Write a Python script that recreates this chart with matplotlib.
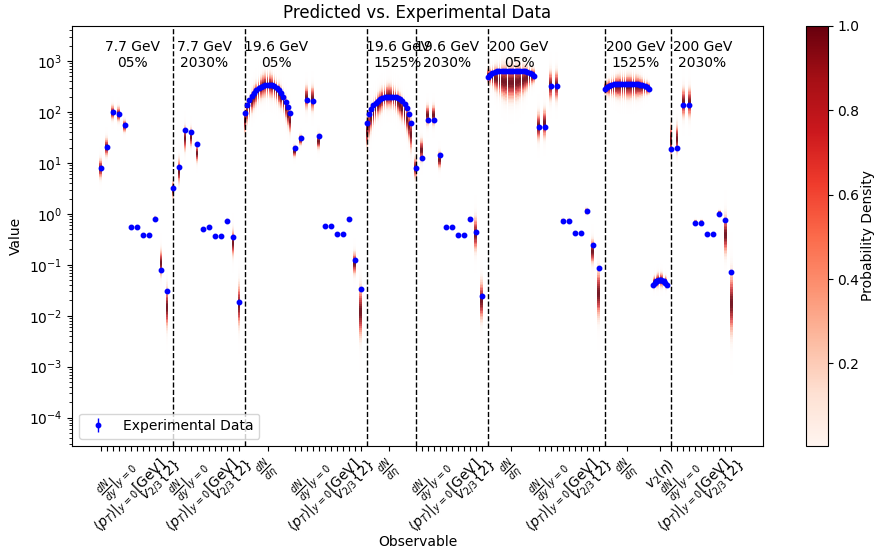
#!/usr/bin/env python3
"""
Predicted (posterior density bands) vs. experimental data, log scale, per observable.
"""

import numpy as np
import matplotlib
matplotlib.use("Agg")
import matplotlib.pyplot as plt
from matplotlib.colors import ListedColormap, Normalize
from matplotlib.cm import ScalarMappable

# ---- group headers ----
group_titles = ["7.7 GeV\n05%", "7.7 GeV\n2030%", "19.6 GeV\n05%", "19.6 GeV\n1525%",
                "19.6 GeV\n2030%", "200 GeV\n05%", "200 GeV\n1525%", "200 GeV\n2030%"]

# ---- discrete observables: experimental value, band low / high edge ----
# order: dN/dy (K-, K+, pi-, pi+, p), <pT> (same), v2{2}, v3{2}
g77c_exp = [7.9, 21, 101, 93, 55, 0.54, 0.556, 0.376, 0.376, 0.80, 0.080, 0.031]
g77c_lo = [4.0, 11, 60, 55, 35, 0.50, 0.51, 0.35, 0.35, 0.70, 0.045, 0.0035]
g77c_hi = [15, 38, 160, 150, 80, 0.59, 0.60, 0.41, 0.41, 0.95, 0.27, 0.06]

g77p_exp = [3.2, 8.5, 44, 41, 23, 0.50, 0.54, 0.36, 0.36, 0.73, 0.35, 0.019]
g77p_lo = [1.7, 3.0, 13, 17, 8.4, 0.46, 0.50, 0.33, 0.33, 0.62, 0.11, 0.0037]
g77p_hi = [5.3, 16, 70, 60, 28, 0.55, 0.59, 0.40, 0.40, 0.85, 0.67, 0.07]

g196c_exp = [19.4, 30.5, 172, 166, 34, 0.565, 0.58, 0.40, 0.40, 0.80, 0.125, 0.033]
g196c_lo = [11.5, 20, 88, 80, 16, 0.52, 0.54, 0.37, 0.37, 0.70, 0.05, 0.002]
g196c_hi = [25, 40, 420, 420, 44, 0.61, 0.63, 0.44, 0.44, 0.90, 0.23, 0.07]

g196p_exp = [7.9, 12.4, 70, 70, 14.4, 0.54, 0.556, 0.39, 0.39, 0.79, 0.45, 0.024]
g196p_lo = [4.0, 8.4, 44, 44, 6.6, 0.50, 0.51, 0.36, 0.36, 0.70, 0.125, 0.005]
g196p_hi = [16, 38, 170, 170, 20, 0.59, 0.60, 0.42, 0.42, 0.90, 1.3, 0.08]

# 200 GeV: dN/dy (K-, K+, pi-, pi+), <pT> (K-, K+, pi-, pi+, p), v2{2}, v3{2}
g200c_exp = [50, 50, 323, 323, 0.73, 0.73, 0.42, 0.42, 1.15, 0.24, 0.086]
g200c_lo = [20, 22, 120, 120, 0.62, 0.62, 0.38, 0.38, 0.9, 0.08, 0.005]
g200c_hi = [137, 160, 910, 910, 0.85, 0.85, 0.47, 0.47, 1.4, 0.42, 0.15]

g200p_exp = [19, 20, 137, 137, 0.676, 0.676, 0.41, 0.41, 1.0, 0.76, 0.073]
g200p_lo = [10, 11, 56, 56, 0.6, 0.6, 0.37, 0.37, 0.85, 0.1, 0.002]
g200p_hi = [80, 80, 420, 420, 0.8, 0.8, 0.45, 0.45, 1.25, 1.5, 0.15]

# ---- pseudorapidity curves ----
dndeta_196c = [94, 135, 170, 205, 240, 270, 295, 315, 330, 338, 340, 338, 332, 320, 300, 275, 240, 200, 160, 125, 94]
dndeta_196c_lo = [30, 45, 60, 75, 90, 105, 120, 135, 145, 150, 150, 150, 145, 135, 120, 105, 90, 75, 55, 40, 30]
dndeta_196c_hi = [150, 210, 270, 340, 420, 490, 560, 640, 720, 770, 780, 770, 720, 640, 560, 490, 420, 340, 260, 190, 150]

dndeta_196m = [60, 90, 115, 135, 150, 165, 178, 188, 195, 198, 200, 200, 198, 195, 188, 178, 165, 145, 120, 90, 62]
dndeta_196m_lo = [15, 22, 30, 40, 50, 60, 70, 80, 88, 92, 95, 92, 88, 80, 70, 60, 50, 40, 30, 20, 12]
dndeta_196m_hi = [110, 150, 190, 230, 270, 310, 350, 390, 420, 450, 460, 450, 420, 390, 350, 310, 270, 230, 180, 140, 110]

dndeta_200c = [490, 540, 580, 610, 630, 640, 650, 650, 645, 640, 635, 635, 640, 645, 650, 645, 635, 615, 585, 545, 500]
dndeta_200c_lo = [320, 280, 240, 205, 175, 150, 135, 122, 115, 110, 110, 110, 115, 122, 135, 150, 175, 205, 240, 280, 320]
dndeta_200c_hi = [830, 900, 980, 1050, 1120, 1180, 1230, 1270, 1300, 1300, 1300, 1300, 1300, 1270, 1230, 1180, 1120, 1050, 980, 900, 830]

dndeta_200m = [280, 305, 325, 340, 348, 352, 355, 356, 355, 354, 353, 353, 354, 355, 354, 350, 345, 335, 320, 305, 285]
dndeta_200m_lo = [200, 185, 172, 162, 155, 149, 144, 140, 138, 137, 137, 137, 138, 140, 144, 149, 155, 162, 172, 185, 200]
dndeta_200m_hi = [430, 480, 530, 580, 620, 660, 690, 710, 720, 720, 720, 720, 720, 710, 690, 660, 620, 580, 530, 480, 430]

v2eta_200m = [0.040, 0.044, 0.047, 0.049, 0.050, 0.051, 0.050, 0.049, 0.047, 0.044, 0.040]
v2eta_200m_lo = [0.030, 0.030, 0.031, 0.031, 0.031, 0.031, 0.031, 0.031, 0.031, 0.030, 0.030]
v2eta_200m_hi = [0.065, 0.070, 0.075, 0.080, 0.082, 0.083, 0.082, 0.080, 0.075, 0.070, 0.065]

REL_ERR = 0.05  # experimental error bars are tiny

LBL_DNDY = r"$\frac{dN}{dy}|_{y=0}$"
LBL_PT = r"$\langle p_T\rangle|_{y=0}$[GeV]"
LBL_VN = r"$v_{2/3}\{2\}$"
LBL_DNDETA = r"$\frac{dN}{d\eta}$"
LBL_V2ETA = r"$v_2(\eta)$"

# (kind, data...) blocks per group; label index -> text for discrete blocks
groups = [
    [("disc", g77c_exp, g77c_lo, g77c_hi, {3: LBL_DNDY, 5: LBL_PT, 10: LBL_VN})],
    [("disc", g77p_exp, g77p_lo, g77p_hi, {3: LBL_DNDY, 5: LBL_PT, 10: LBL_VN})],
    [("curve", dndeta_196c, dndeta_196c_lo, dndeta_196c_hi, 7.55, LBL_DNDETA),
     ("disc", g196c_exp, g196c_lo, g196c_hi, {3: LBL_DNDY, 5: LBL_PT, 10: LBL_VN})],
    [("curve", dndeta_196m, dndeta_196m_lo, dndeta_196m_hi, 7.4, LBL_DNDETA)],
    [("disc", g196p_exp, g196p_lo, g196p_hi, {3: LBL_DNDY, 5: LBL_PT, 10: LBL_VN})],
    [("curve", dndeta_200c, dndeta_200c_lo, dndeta_200c_hi, 7.75, LBL_DNDETA),
     ("disc", g200c_exp, g200c_lo, g200c_hi, {2: LBL_DNDY, 4: LBL_PT, 9: LBL_VN})],
    [("curve", dndeta_200m, dndeta_200m_lo, dndeta_200m_hi, 7.35, LBL_DNDETA),
     ("curve", v2eta_200m, v2eta_200m_lo, v2eta_200m_hi, 2.2, LBL_V2ETA)],
    [("disc", g200p_exp, g200p_lo, g200p_hi, {2: LBL_DNDY, 4: LBL_PT, 9: LBL_VN})],
]
GAP = 0.75


def draw_band(ax, x, lo, hi, width, cmap):
    zlo, zhi = np.log10(lo), np.log10(hi)
    zc = 0.5 * (zlo + zhi)
    s = (zhi - zlo) / 4.0
    edges = np.linspace(zc - 3 * s, zc + 3 * s, 61)
    mid = 0.5 * (edges[1:] + edges[:-1])
    dens = np.exp(-0.5 * ((mid - zc) / s) ** 2)
    ax.pcolormesh([x - width / 2, x + width / 2], 10 ** edges, dens[:, None],
                  cmap=cmap, vmin=0, vmax=1, shading="flat", zorder=1,
                  linewidth=0, antialiased=False, rasterized=True)


def main():
    lv = np.linspace(0, 1, 256)
    reds = plt.get_cmap("Reds")(lv ** 1.4)
    reds[:, 3] = np.clip(lv * 0.9, 0, 1)
    band_cmap = ListedColormap(reds)

    fig = plt.figure(figsize=(8.76, 5.51), dpi=100)
    ax = fig.add_axes([0.082, 0.191, 0.789, 0.762])
    cax = fig.add_axes([0.920, 0.191, 0.025, 0.762])

    xs_all, ys_all = [], []
    ticks, ticklabels = [], []
    pos = 0.0
    for gi, blocks in enumerate(groups):
        start = pos
        if gi > 0:
            ax.axvline(start, color="black", linestyle="--", linewidth=1, zorder=2)
        ax.text(start + 5.2, 0.93, group_titles[gi], transform=ax.get_xaxis_transform(),
                ha="center", va="center", fontsize=10)
        for blk in blocks:
            if blk[0] == "disc":
                _, exp, lo, hi, lbls = blk
                for i in range(len(exp)):
                    draw_band(ax, pos, lo[i], hi[i], 0.45, band_cmap)
                    xs_all.append(pos)
                    ys_all.append(exp[i])
                    ticks.append(pos)
                    ticklabels.append(lbls.get(i, ""))
                    pos += 1
            else:
                _, vals, lo, hi, span, lbl = blk
                xc = pos + np.linspace(0, span, len(vals))
                step = span / (len(vals) - 1)
                for i in range(len(vals)):
                    draw_band(ax, xc[i], lo[i], hi[i], step * 0.75, band_cmap)
                xs_all.extend(xc)
                ys_all.extend(vals)
                ticks.append(pos + span / 2)
                ticklabels.append(lbl)
                pos += span + GAP

    ys_all = np.array(ys_all)
    ax.errorbar(xs_all, ys_all, yerr=ys_all * REL_ERR, fmt="o", color="blue",
                markersize=3.2, elinewidth=1, zorder=3, label="Experimental Data")

    ax.set_yscale("log")
    ax.set_ylim(2.8e-5, 4.9e3)
    ax.set_xlim(-4.83, 110.3)
    ax.set_xticks(ticks)
    ax.set_xticklabels(ticklabels, rotation=45, fontsize=10)
    ax.set_xlabel("Observable")
    ax.xaxis.set_label_coords(0.5, -0.212)
    ax.set_ylabel("Value")
    ax.set_title("Predicted vs. Experimental Data")
    ax.legend(loc="lower left")

    sm = ScalarMappable(norm=Normalize(0.005, 1.0), cmap="Reds")
    cbar = fig.colorbar(sm, cax=cax)
    cbar.set_label("Probability Density", labelpad=1)

    fig.savefig("out.png", dpi=100)


if __name__ == "__main__":
    main()
